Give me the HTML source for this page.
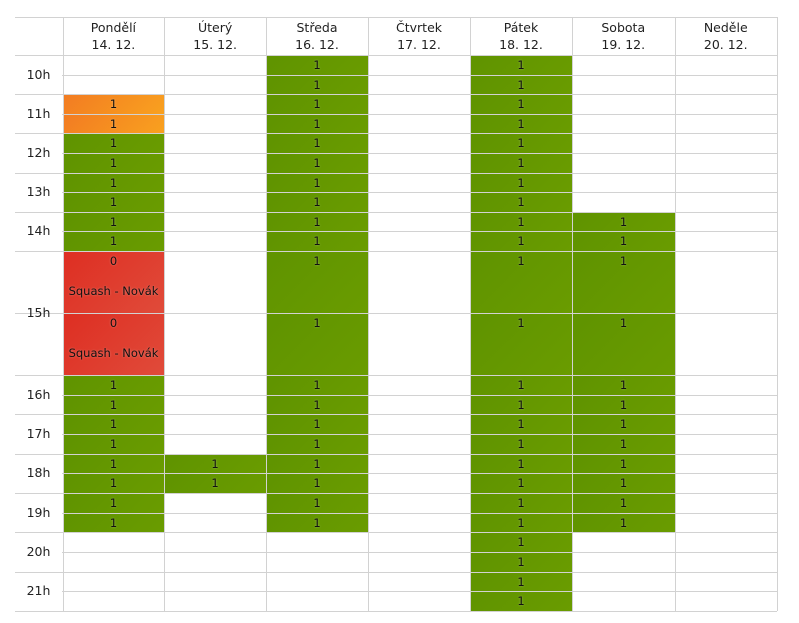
<!DOCTYPE html>
<html><head><meta charset="utf-8">
<style>
body{margin:0;background:#fff;width:799px;height:623px;overflow:hidden;font-family:"DejaVu Sans","Liberation Sans",sans-serif;color:#333}
.c{position:absolute;text-align:center;font-size:11.5px;color:#111;text-shadow:0 0 2px rgba(255,255,255,0.35)}
.g{background:linear-gradient(135deg,#5f9300,#6a9c00)}
.o{background:linear-gradient(135deg,#f27b22,#f9a11f)}
.r{background:linear-gradient(135deg,#de2e22,#e04b3a)}
.hl{position:absolute;height:1px;background:#d2d2d2}
.vl{position:absolute;width:1px;background:#d2d2d2}
.h{position:absolute;text-align:center;font-size:12.5px;line-height:17px;color:#222}
.t{position:absolute;left:15px;width:47px;text-align:center;font-size:12.5px;color:#222}
</style></head><body>
<div id="root"></div>
<script>
var X=[62.5,164.3,266,368,470,572,674.5,777];
var Y=[55];
for(var i=1;i<=10;i++)Y.push(55+i*19.6);
Y.push(313);Y.push(375);
for(var i=1;i<=12;i++)Y.push(375+i*19.67);
var h='';
var days=[["Pondělí","14. 12."],["Úterý","15. 12."],["Středa","16. 12."],["Čtvrtek","17. 12."],["Pátek","18. 12."],["Sobota","19. 12."],["Neděle","20. 12."]];
for(var d=0;d<7;d++){h+='<div class="h" style="left:'+X[d]+'px;width:'+(X[d+1]-X[d])+'px;top:19px">'+days[d][0]+'<br>'+days[d][1]+'</div>';}
function cell(d,i,cls,txt){
 var x=Math.round(X[d]),w=Math.round(X[d+1])-x,y=Math.round(Y[i]),hh=Math.round(Y[i+1])-y;
 var inner='<div style="margin-top:3px;line-height:14px">'+txt+'</div>';
 if(i==10||i==11){inner='<div style="margin-top:3px;line-height:14px">'+txt+'</div>'+(cls=='r'?'<div style="margin-top:16px;line-height:14px">Squash - Novák</div>':'');}
 h+='<div class="c '+cls+'" style="left:'+x+'px;top:'+y+'px;width:'+w+'px;height:'+hh+'px">'+inner+'</div>';
}
function rng(d,a,b,cls,t){for(var i=a;i<=b;i++)cell(d,i,cls,t);}
rng(0,2,3,'o','1');rng(0,4,9,'g','1');rng(0,10,11,'r','0');rng(0,12,19,'g','1');
rng(1,16,17,'g','1');
rng(2,0,19,'g','1');
rng(4,0,23,'g','1');
rng(5,8,19,'g','1');
h+='<div class="hl" style="left:15px;width:762px;top:17px"></div>';
for(var i=0;i<Y.length;i++){h+='<div class="hl" style="left:'+(i%2==0||i==11?15:62)+'px;width:'+(i%2==0||i==11?762:715)+'px;top:'+Math.round(Y[i])+'px;'+'"></div>';}
for(var d=0;d<8;d++){h+='<div class="vl" style="left:'+Math.round(X[d])+'px;top:17px;height:594px"></div>';}
var hours=['10h','11h','12h','13h','14h'];
for(var k=0;k<5;k++){var yy=(Y[2*k]+Y[2*k+2])/2;h+='<div class="t" style="top:'+(yy-8)+'px">'+hours[k]+'</div>';}
h+='<div class="t" style="top:'+(313-8)+'px">15h</div>';
var hs=['16h','17h','18h','19h','20h','21h'];
for(var k=0;k<6;k++){var yy=(Y[12+2*k]+Y[14+2*k])/2;h+='<div class="t" style="top:'+(yy-8)+'px">'+hs[k]+'</div>';}
document.getElementById('root').innerHTML=h;
</script>
</body></html>
